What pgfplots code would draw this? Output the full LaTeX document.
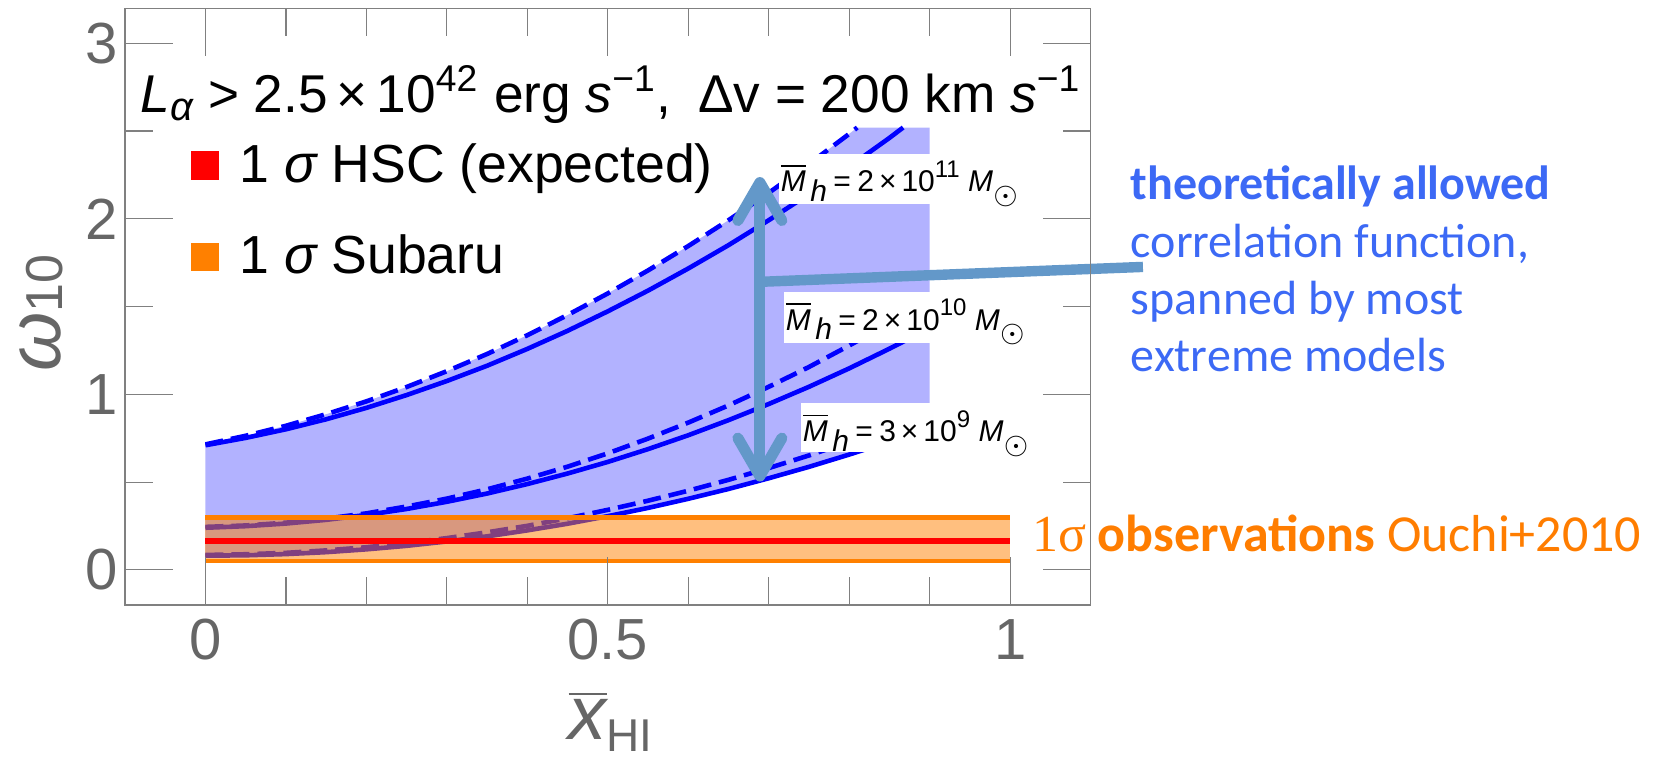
\documentclass[border=0pt]{standalone}
\usepackage{fontspec}
\setmainfont{Liberation Sans}
\newfontfamily\carlito{Carlito}
\newfontfamily\libserif{Liberation Serif}
\usepackage{pgfplots}
\pgfplotsset{compat=1.18}
\usetikzlibrary{arrows.meta}

\newcommand{\fs}[1]{\fontsize{#1}{#1}\selectfont}
\newcommand{\mlabel}[2]{{\fs{7.5}$\overline{\mbox{\itshape M}}$\hspace{1.1pt}\raisebox{-0.6ex}{\itshape h}\hspace{1.6pt}=\hspace{1.6pt}#1\,×\,10\raisebox{0.9ex}{\fs{6}#2} {\itshape M}\raisebox{-0.75ex}{$\odot$}}}

\definecolor{framegray}{RGB}{128,128,128}
\definecolor{labelgray}{RGB}{102,102,102}
\definecolor{mblue}{RGB}{0,0,255}
\definecolor{morange}{RGB}{255,128,0}
\definecolor{arrowblue}{RGB}{99,152,201}
\definecolor{textblue}{RGB}{60,105,245}
\definecolor{textorange}{RGB}{255,125,0}

\begin{document}
\begin{tikzpicture}
\begin{axis}[
  at={(31.25pt,38pt)}, anchor=south west,
  scale only axis, width=241.4pt, height=149.2pt,
  xmin=-0.1, xmax=1.1, ymin=-0.2, ymax=3.2,
  clip=false, axis on top,
  xtick={0,0.5,1}, minor xtick={0.1,0.2,0.3,0.4,0.6,0.7,0.8,0.9},
  ytick={0,1,2,3}, minor ytick={0.5,1.5,2.5},
  tick align=inside, major tick length=12pt, minor tick length=7pt,
  every tick/.style={draw=framegray, line width=0.3pt},
  axis line style={draw=framegray, line width=0.3pt},
  /pgf/number format/assume math mode=true,
  every tick label/.append style={text=labelgray, font=\fs{14.5}},
  yticklabel style={inner xsep=1.5pt},
  xlabel={{\fs{19}$\overline{\mbox{\itshape x}}$}\raisebox{-0.55ex}{\fs{11.5}HI}},
  xlabel style={at={(axis description cs:0.503,-0.226)}, anchor=base, text=labelgray},
  ylabel={{\fs{19}\itshape ω}\raisebox{-0.1ex}{\fs{13}10}},
  ylabel style={at={(axis description cs:-0.0673,0.4894)}, anchor=base, text=labelgray},
  legend style={at={(axis description cs:0.0680,0.7790)}, anchor=north west,
    draw=none, fill=none, inner sep=0pt, outer sep=0pt, font=\fs{13.4},
    row sep=10pt, nodes={inner sep=0pt, text height=10.6pt, text depth=2.2pt},
    /tikz/every odd column/.style={column sep=5.1pt}},
  legend cell align=left,
]
% theoretically allowed region
\addplot[draw=none, fill=blue!30, forget plot] coordinates {
(0,0.715) (0.05,0.764) (0.1,0.821) (0.15,0.887) (0.2,0.960) (0.25,1.042) (0.3,1.132) (0.35,1.230) (0.4,1.337) (0.45,1.452) (0.5,1.575) (0.55,1.706) (0.6,1.845) (0.65,1.992) (0.7,2.148) (0.75,2.312) (0.8,2.484) (0.81,2.52) (0.9,2.52) (0.9,0.810) (0.85,0.731) (0.8,0.657) (0.75,0.587) (0.7,0.522) (0.65,0.461) (0.6,0.405) (0.55,0.353) (0.5,0.306) (0.45,0.263) (0.4,0.225) (0.35,0.191) (0.3,0.162) (0.25,0.137) (0.2,0.117) (0.15,0.101) (0.1,0.090) (0.05,0.083) (0,0.081)};
% M = 2e11
\addplot[mblue, line width=1.15pt, forget plot] coordinates {
(0,0.710) (0.05,0.752) (0.1,0.801) (0.15,0.858) (0.2,0.923) (0.25,0.996) (0.3,1.076) (0.35,1.163) (0.4,1.259) (0.45,1.362) (0.5,1.473) (0.55,1.591) (0.6,1.717) (0.65,1.850) (0.7,1.992) (0.75,2.141) (0.8,2.297) (0.85,2.461) (0.867,2.52)};
\addplot[mblue, line width=1.15pt, dash pattern=on 4.5pt off 2pt, forget plot] coordinates {
(0,0.715) (0.05,0.764) (0.1,0.821) (0.15,0.887) (0.2,0.960) (0.25,1.042) (0.3,1.132) (0.35,1.230) (0.4,1.337) (0.45,1.452) (0.5,1.575) (0.55,1.706) (0.6,1.845) (0.65,1.992) (0.7,2.148) (0.75,2.312) (0.8,2.484) (0.81,2.52)};
% M = 2e10
\addplot[mblue, line width=1.15pt, forget plot] coordinates {
(0,0.240) (0.05,0.249) (0.1,0.264) (0.15,0.285) (0.2,0.313) (0.25,0.347) (0.3,0.388) (0.35,0.435) (0.4,0.489) (0.45,0.549) (0.5,0.615) (0.55,0.688) (0.6,0.767) (0.65,0.853) (0.7,0.945) (0.75,1.043) (0.8,1.148) (0.85,1.260) (0.9,1.377)};
\addplot[mblue, line width=1.15pt, dash pattern=on 4.5pt off 2pt, forget plot] coordinates {
(0,0.245) (0.05,0.253) (0.1,0.269) (0.15,0.292) (0.2,0.322) (0.25,0.361) (0.3,0.406) (0.35,0.459) (0.4,0.520) (0.45,0.588) (0.5,0.664) (0.55,0.748) (0.6,0.839) (0.65,0.937) (0.7,1.043) (0.75,1.156) (0.8,1.278) (0.85,1.406) (0.9,1.542)};
% M = 3e9
\addplot[mblue, line width=1.15pt, forget plot] coordinates {
(0,0.081) (0.05,0.083) (0.1,0.090) (0.15,0.101) (0.2,0.117) (0.25,0.137) (0.3,0.162) (0.35,0.191) (0.4,0.225) (0.45,0.263) (0.5,0.306) (0.55,0.353) (0.6,0.405) (0.65,0.461) (0.7,0.522) (0.75,0.587) (0.8,0.657) (0.85,0.731) (0.9,0.810)};
\addplot[mblue, line width=1.15pt, dash pattern=on 4.5pt off 2pt, forget plot] coordinates {
(0,0.085) (0.05,0.089) (0.1,0.097) (0.15,0.111) (0.2,0.129) (0.25,0.153) (0.3,0.181) (0.35,0.214) (0.4,0.251) (0.45,0.294) (0.5,0.342) (0.55,0.394) (0.6,0.451) (0.65,0.513) (0.7,0.580) (0.75,0.652) (0.8,0.729) (0.85,0.810) (0.9,0.897)};
% observations band
\addplot[draw=none, fill=morange, fill opacity=0.5, forget plot] coordinates {(0,0.050) (1,0.050) (1,0.300) (0,0.300)};
\addplot[morange, line width=1.15pt, forget plot] coordinates {(0,0.300) (1,0.300)};
\addplot[morange, line width=1.15pt, forget plot] coordinates {(0,0.050) (1,0.050)};
\addplot[red, line width=1.6pt, forget plot] coordinates {(0,0.166) (1,0.166)};
% legend
\addlegendimage{legend image code/.code={\fill[red] (0pt,-3.375pt) rectangle (6.75pt,3.375pt);}}
\addlegendentry{1 {\itshape σ} HSC (expected)}
\addlegendimage{legend image code/.code={\fill[morange] (0pt,-3.375pt) rectangle (6.75pt,3.375pt);}}
\addlegendentry{1 {\itshape σ} Subaru}
% mass labels
\node[anchor=base west, fill=white, inner xsep=0.5pt, inner ysep=0pt, text height=9.6pt, text depth=3.1pt] at (axis cs:0.7117,2.153) {\mlabel{2}{11}};
\node[anchor=base west, fill=white, inner xsep=0.5pt, inner ysep=0pt, text height=9.6pt, text depth=3.3pt] at (axis cs:0.7178,1.366) {\mlabel{2}{10}};
\node[anchor=base west, fill=white, inner xsep=0.5pt, inner ysep=0pt, text height=9.6pt, text depth=2.5pt] at (axis cs:0.739,0.730) {\mlabel{3}{9}};
% arrows
\draw[arrowblue, line width=2.75pt, line cap=round, {Straight Barb[length=9.5pt, width=11pt, round]}-{Straight Barb[length=9.5pt, width=11pt, round]}] (axis cs:0.689,2.238) -- (axis cs:0.689,0.503);
\draw[arrowblue, line width=2.6pt] (axis cs:0.689,1.641) -- (axis cs:1.165,1.726);
% title
\node[anchor=base west, inner sep=0pt, font=\fs{13.3}] at (axis cs:-0.0812,2.608) {{\itshape L}\raisebox{-2pt}{\fs{10}\itshape α} > 2.5\,×\,10\textsuperscript{42} erg {\itshape s}\textsuperscript{−1},\enspace Δv = 200 km {\itshape s}\textsuperscript{−1}};
% annotations
\node[anchor=base west, align=left, inner sep=0pt, text=textblue, font=\carlito\fontsize{12}{14.3}\selectfont] at (axis cs:1.149,1.13) {\textbf{theoretically allowed}\\correlation function,\\spanned by most\\extreme models};
\node[anchor=base west, inner sep=0pt, text=textorange] at (axis cs:1.0269,0.104) {{\libserif\fs{13}1σ} {\carlito\fs{13}\textbf{observations} Ouchi+2010}};
\end{axis}
\pgfresetboundingbox
\path[use as bounding box] (0,0) rectangle (419.75pt,189.25pt);
\end{tikzpicture}
\end{document}
